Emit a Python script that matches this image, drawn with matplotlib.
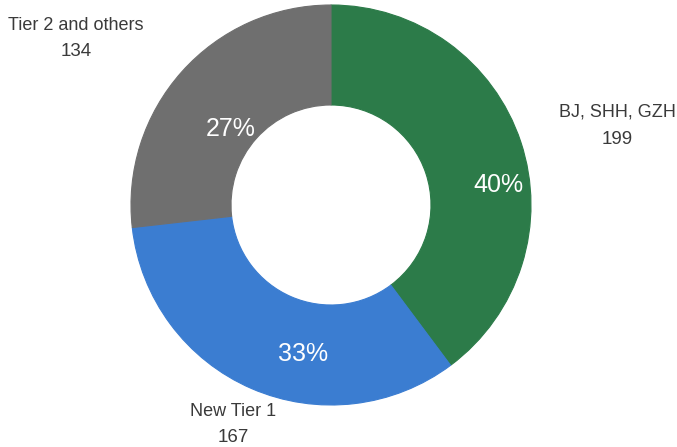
import matplotlib
matplotlib.use("Agg")
import matplotlib.pyplot as plt

# Market split by city tier
categories = ["BJ, SHH, GZH", "New Tier 1", "Tier 2 and others"]
values = [199, 167, 134]
colors = ["#2c7b49", "#3b7dd1", "#6f6f6f"]

W, H = 677, 447
fig = plt.figure(figsize=(W / 100, H / 100), dpi=100)
ax = fig.add_axes([0, 0, 1, 1])

cx, cy, r_out = 331, H - 205, 200
wedges, _ = ax.pie(values, colors=colors, startangle=90, counterclock=False,
                   center=(cx, cy), radius=r_out, frame=True,
                   wedgeprops=dict(width=100, linewidth=0.8))
for w, c in zip(wedges, colors):
    w.set_edgecolor(c)
ax.set_xlim(0, W)
ax.set_ylim(0, H)
ax.axis("off")

total = sum(values)
font = ["Liberation Sans", "DejaVu Sans"]

# percentage labels inside the ring (pixel positions, top-down)
pct_pos = [(498, 185), (303, 354), (231, 129)]
for v, (px, py) in zip(values, pct_pos):
    ax.text(px, H - py, f"{round(100 * v / total)}%", color="white",
            fontsize=18, family=font, ha="center", va="center")

# category labels outside the ring: name line, then value line
name_pos = [(617, 112), (233, 411), (76, 25)]
for name, v, (px, py) in zip(categories, values, name_pos):
    ax.text(px, H - py, name, color="#3a3a3a", fontsize=13,
            family=font, ha="center", va="center")
    ax.text(px, H - py - 27, str(v), color="#3a3a3a", fontsize=13.5,
            family=font, ha="center", va="center")

fig.savefig("out.png", dpi=100)
